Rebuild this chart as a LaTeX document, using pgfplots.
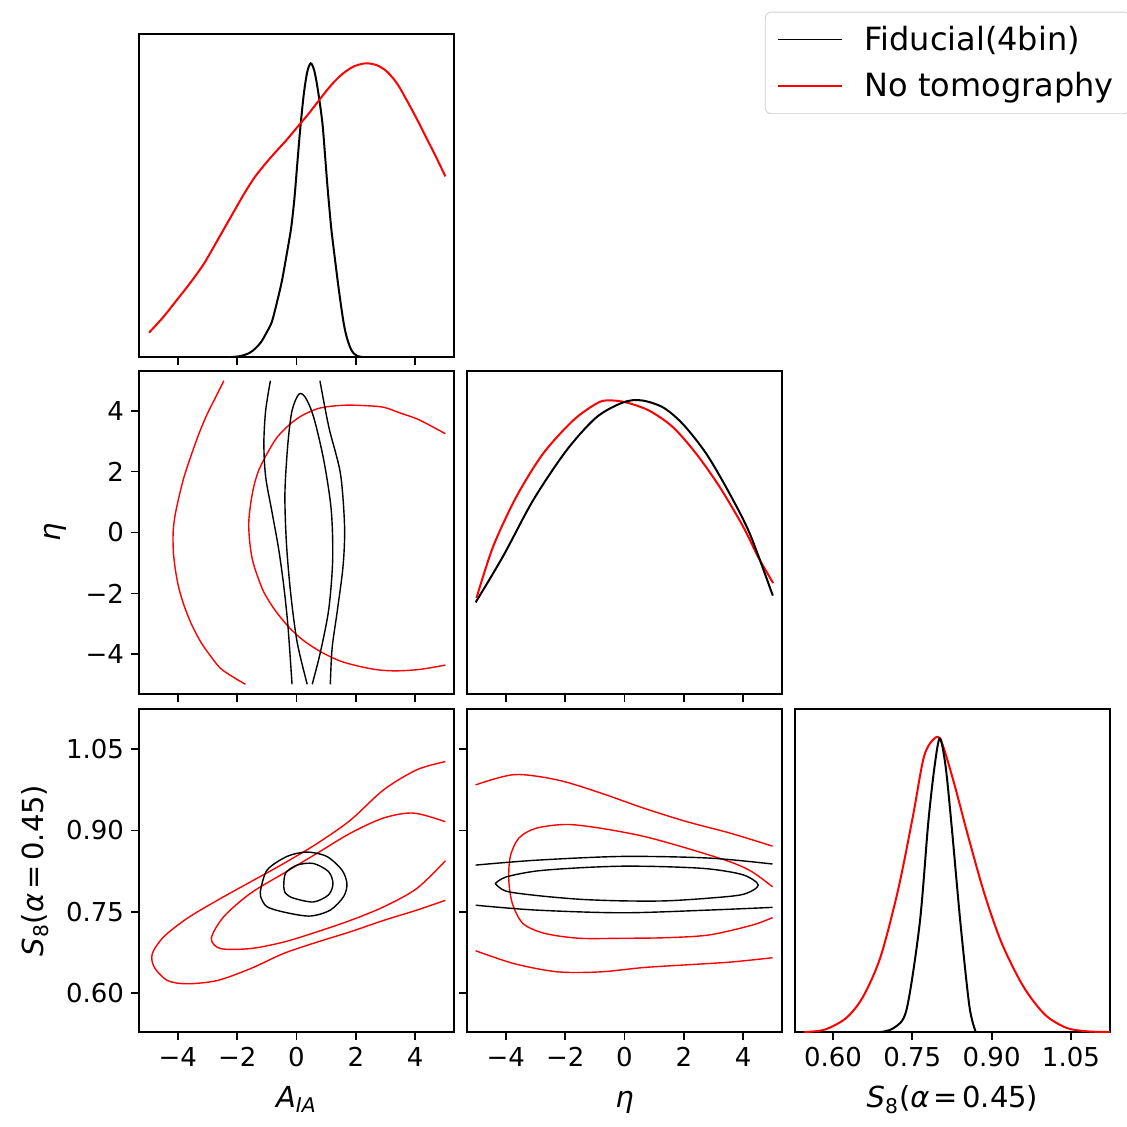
\documentclass[border=0pt]{standalone}
\usepackage{fontspec}
\setmainfont{DejaVu Sans}
\usepackage{pgfplots}
\pgfplotsset{compat=1.18}

\newcommand{\AIA}{\textit{A}\textsubscript{\textit{IA}}}
\newcommand{\Seight}{\textit{S}\textsubscript{8}(\textit{α}\kern0.15em=\kern0.15em0.45)}
\newcommand{\labfont}{\fontsize{14.5}{17}\selectfont}

\pgfplotsset{
  corner/.style={
    scale only axis, width=157.5pt, height=161.5pt,
    axis line style={line width=1pt},
    every tick/.style={black, line width=0.9pt},
    major tick length=4pt,
    tick align=outside,
    xtick pos=left, ytick pos=left,
    tick label style={font=\fontsize{13}{15}\selectfont},
    every axis x label/.style={at={(axis description cs:0.5,-0.235)}, anchor=base, font=\labfont},
  },
  pm x/.style={xmin=-5.31,xmax=5.31,xtick={-4,-2,0,2,4},xticklabels={−4,−2,0,2,4}},
  pm y/.style={ymin=-5.3,ymax=5.3,ytick={-4,-2,0,2,4},yticklabels={−4,−2,0,2,4}},
  s8 x/.style={xmin=0.528,xmax=1.124,xtick={0.60,0.75,0.90,1.05},xticklabels={0.60,0.75,0.90,1.05}},
  s8 y/.style={ymin=0.528,ymax=1.124,ytick={0.60,0.75,0.90,1.05},yticklabels={0.60,0.75,0.90,1.05}},
  dens/.style={ymin=0,ymax=1.1,ytick=\empty},
  blk/.style={black, line width=0.7pt, smooth},
  rd/.style={red, line width=0.7pt, smooth},
  blk1/.style={black, line width=1pt, smooth},
  rd1/.style={red, line width=1pt, smooth},
}

\begin{document}
\begin{tikzpicture}
\path[use as bounding box] (0,0) rectangle (563.5pt,563pt);

% ---------- A_IA 1D ----------
\begin{axis}[corner, at={(69.5pt,384.5pt)}, anchor=south west,
  pm x, xticklabels={}, dens,
  legend style={at={(axis description cs:1.987,1.069)}, anchor=north west,
    draw=black!18, rounded corners=3pt, font=\fontsize{16}{19}\selectfont,
    inner xsep=6pt, inner ysep=5pt, row sep=5.5pt},
  legend cell align=left,
  legend image code/.code={\draw[#1, line width=0.6pt] (0pt,0pt) -- (32pt,0pt);}]
\addplot[blk1] coordinates {(-2.2,0) (-1.9,0.003) (-1.6,0.013) (-1.4,0.028) (-1.2,0.05) (-1.0,0.085) (-0.83,0.12) (-0.65,0.19) (-0.49,0.26) (-0.33,0.35) (-0.18,0.44) (-0.07,0.54) (0.02,0.65) (0.12,0.77) (0.24,0.89) (0.36,0.97) (0.48,1.0) (0.60,0.975) (0.72,0.91) (0.87,0.80) (0.96,0.69) (1.05,0.574) (1.17,0.44) (1.28,0.347) (1.40,0.25) (1.50,0.176) (1.60,0.11) (1.70,0.065) (1.82,0.03) (1.93,0.012) (2.04,0.004) (2.2,0)};
\addlegendentry{\hspace{9pt}Fiducial(4bin)}
\addplot[rd1] coordinates {(-4.97,0.083) (-4.5,0.135) (-4.13,0.182) (-3.6,0.25) (-3.12,0.318) (-2.65,0.40) (-2.22,0.476) (-1.8,0.55) (-1.44,0.608) (-1.1,0.652) (-0.76,0.692) (-0.37,0.735) (0.02,0.782) (0.38,0.825) (0.75,0.873) (1.12,0.92) (1.48,0.958) (1.9,0.988) (2.32,1.0) (2.7,0.994) (3.05,0.972) (3.4,0.93) (3.73,0.872) (4.07,0.808) (4.40,0.742) (4.72,0.678) (5.02,0.615)};
\addlegendentry{\hspace{9pt}No tomography}
\end{axis}

% ---------- A_IA vs eta ----------
\begin{axis}[corner, at={(69.5pt,216pt)}, anchor=south west,
  pm x, xticklabels={}, pm y, ylabel={\textit{η}},
  every axis y label/.style={at={(axis description cs:-0.267,0.5)}, rotate=90, anchor=center, font=\labfont}]
\addplot[rd] coordinates {(-2.45,4.98) (-2.73,4.43) (-3.01,3.89) (-3.29,3.24) (-3.57,2.48) (-3.79,1.83) (-3.96,1.18) (-4.10,0.53) (-4.16,-0.01) (-4.15,-0.66) (-4.07,-1.31) (-3.96,-1.85) (-3.79,-2.40) (-3.55,-2.99) (-3.23,-3.59) (-2.90,-4.05) (-2.56,-4.46) (-2.11,-4.76) (-1.72,-4.98)};
\addplot[rd] coordinates {(5.02,3.24) (4.51,3.51) (4.06,3.73) (3.50,3.92) (2.94,4.11) (2.38,4.16) (1.71,4.18) (1.14,4.14) (0.70,4.06) (0.19,3.84) (-0.20,3.57) (-0.65,3.13) (-0.99,2.59) (-1.27,2.05) (-1.44,1.51) (-1.55,0.91) (-1.61,0.32) (-1.58,-0.28) (-1.49,-0.88) (-1.32,-1.42) (-1.10,-1.96) (-0.76,-2.50) (-0.31,-3.05) (0.19,-3.51) (0.81,-3.91) (1.48,-4.22) (2.15,-4.40) (2.77,-4.51) (3.39,-4.54) (4.18,-4.49) (5.02,-4.35)};
\addplot[blk] coordinates {(-0.88,4.98) (-1.04,4.0) (-1.10,2.92) (-1.04,1.83) (-0.82,0.64) (-0.60,-0.55) (-0.43,-1.75) (-0.29,-3.05) (-0.15,-4.98)};
\addplot[blk] coordinates {(0.79,4.98) (1.09,3.46) (1.48,1.94) (1.62,0.21) (1.57,-1.10) (1.37,-2.61) (1.20,-3.80) (1.14,-4.98)};
\addplot[blk] coordinates {(0.36,-4.98) (0.02,-3.59) (-0.20,-1.96) (-0.34,-0.34) (-0.39,1.29) (-0.29,2.92) (-0.15,4.0) (0.08,4.54) (0.30,4.43) (0.58,3.78) (0.92,2.37) (1.17,0.75) (1.22,-0.88) (1.09,-2.50) (0.81,-3.91) (0.53,-4.98)};
\end{axis}

% ---------- eta 1D ----------
\begin{axis}[corner, at={(233.5pt,216pt)}, anchor=south west,
  pm x, xticklabels={}, dens]
\addplot[rd1] coordinates {(-4.99,0.327) (-4.43,0.502) (-3.65,0.671) (-2.75,0.818) (-1.74,0.931) (-0.95,0.989) (-0.56,1.0) (0.06,0.993) (0.85,0.964) (1.64,0.908) (2.42,0.818) (3.21,0.705) (4.0,0.570) (4.50,0.468) (5.01,0.378)};
\addplot[blk1] coordinates {(-5.02,0.312) (-4.10,0.468) (-3.08,0.660) (-1.96,0.829) (-0.95,0.942) (-0.05,0.993) (0.57,1.0) (1.30,0.976) (1.97,0.919) (2.76,0.818) (3.54,0.683) (4.22,0.547) (5.0,0.335)};
\end{axis}

% ---------- A_IA vs S8 ----------
\begin{axis}[corner, at={(69.5pt,47pt)}, anchor=south west,
  pm x, s8 y, xlabel={\AIA}, ylabel={\Seight},
  every axis y label/.style={at={(axis description cs:-0.33,0.5)}, rotate=90, anchor=center, font=\labfont}]
\addplot[rd] coordinates {(5.02,1.027) (4.06,1.012) (2.94,0.975) (1.82,0.919) (0.70,0.876) (-0.43,0.839) (-1.55,0.805) (-2.67,0.771) (-3.68,0.738) (-4.47,0.704) (-4.86,0.673) (-4.80,0.648) (-4.35,0.623) (-3.68,0.617) (-2.67,0.623) (-1.55,0.645) (-0.43,0.673) (0.70,0.694) (1.82,0.713) (2.94,0.734) (4.06,0.753) (5.02,0.771)};
\addplot[rd] coordinates {(5.02,0.916) (3.95,0.932) (2.94,0.923) (1.82,0.895) (0.70,0.858) (-0.43,0.821) (-1.55,0.784) (-2.45,0.741) (-2.87,0.701) (-2.56,0.682) (-1.55,0.682) (-0.43,0.694) (0.70,0.713) (1.82,0.734) (2.94,0.759) (4.06,0.793) (5.02,0.844)};
\addplot[blk] coordinates {(-1.21,0.790) (-0.99,0.827) (-0.32,0.852) (0.35,0.860) (1.02,0.852) (1.53,0.827) (1.70,0.802) (1.59,0.778) (1.14,0.753) (0.47,0.742) (-0.32,0.748) (-0.99,0.759) (-1.21,0.778) (-1.21,0.790)};
\addplot[blk] coordinates {(-0.43,0.796) (-0.37,0.821) (0.02,0.836) (0.57,0.839) (1.08,0.824) (1.23,0.802) (1.08,0.781) (0.57,0.768) (-0.10,0.775) (-0.37,0.784) (-0.43,0.796)};
\end{axis}

% ---------- eta vs S8 ----------
\begin{axis}[corner, at={(233.5pt,47pt)}, anchor=south west,
  pm x, s8 y, yticklabels={}, xlabel={\textit{η}}]
\addplot[rd] coordinates {(-5.02,0.984) (-3.71,1.003) (-2.25,0.993) (-0.80,0.969) (0.65,0.941) (2.11,0.916) (3.56,0.895) (4.99,0.871)};
\addplot[rd] coordinates {(-5.02,0.678) (-3.71,0.654) (-2.25,0.639) (-0.80,0.639) (0.65,0.647) (2.11,0.652) (3.56,0.657) (4.99,0.665)};
\addplot[rd] coordinates {(4.99,0.796) (4.29,0.824) (3.56,0.842) (2.11,0.867) (0.65,0.889) (-0.80,0.904) (-1.96,0.911) (-2.98,0.904) (-3.56,0.886) (-3.85,0.852) (-3.90,0.808) (-3.78,0.765) (-3.42,0.728) (-2.69,0.710) (-1.53,0.701) (-0.07,0.701) (1.38,0.702) (2.84,0.707) (4.29,0.725) (4.99,0.739)};
\addplot[blk] coordinates {(-5.02,0.836) (-2.98,0.845) (-0.07,0.852) (2.84,0.849) (4.99,0.838)};
\addplot[blk] coordinates {(-5.02,0.762) (-2.98,0.753) (-0.07,0.748) (2.84,0.753) (4.99,0.758)};
\addplot[blk] coordinates {(-4.36,0.802) (-4.0,0.814) (-2.98,0.825) (-1.53,0.831) (-0.07,0.834) (1.38,0.833) (2.84,0.829) (4.0,0.818) (4.51,0.799) (4.0,0.782) (2.84,0.775) (1.38,0.770) (-0.07,0.770) (-1.53,0.773) (-2.98,0.780) (-4.0,0.788) (-4.36,0.802)};
\end{axis}

% ---------- S8 1D ----------
\begin{axis}[corner, at={(397.5pt,47pt)}, anchor=south west,
  s8 x, dens, xlabel={\Seight}]
\addplot[rd1] coordinates {(0.545,0) (0.584,0.008) (0.625,0.048) (0.657,0.121) (0.690,0.257) (0.723,0.484) (0.751,0.734) (0.772,0.938) (0.792,1.0) (0.805,0.989) (0.829,0.847) (0.854,0.677) (0.886,0.473) (0.919,0.303) (0.960,0.155) (1.001,0.059) (1.042,0.014) (1.083,0.002) (1.124,0)};
\addplot[blk1] coordinates {(0.690,0) (0.715,0.014) (0.739,0.076) (0.764,0.371) (0.780,0.711) (0.792,0.904) (0.802,1.0) (0.813,0.904) (0.825,0.688) (0.841,0.371) (0.858,0.087) (0.870,0)};
\end{axis}
\end{tikzpicture}
\end{document}
